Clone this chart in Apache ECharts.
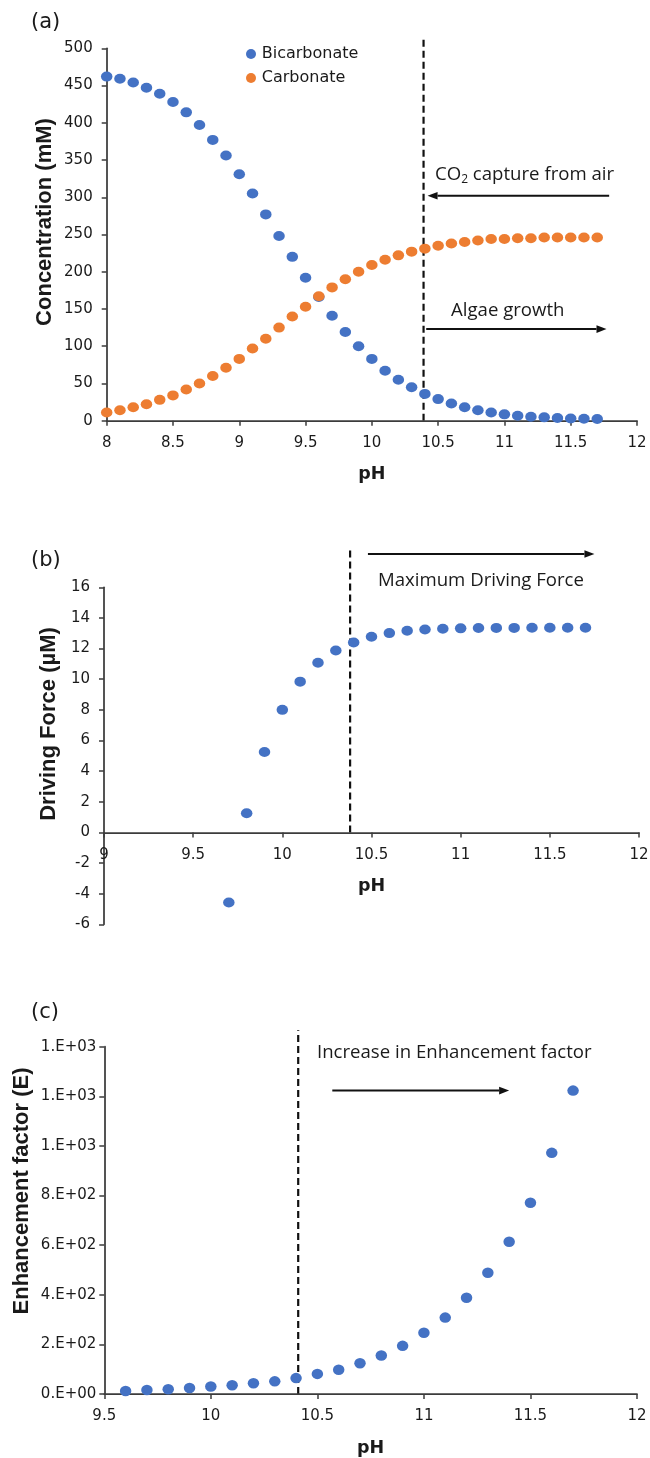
<!DOCTYPE html>
<html>
<head>
<meta charset="utf-8">
<script src="https://cdn.jsdelivr.net/npm/echarts@6/dist/echarts.min.js"></script>
<style>
html, body { margin: 0; padding: 0; background: #fff; }
#chart { width: 650px; height: 1458px; }
</style>
</head>
<body>
<div id="chart"></div>
<script>
// (a) concentration vs pH
const phA = [8.0, 8.1, 8.2, 8.3, 8.4, 8.5, 8.6, 8.7, 8.8, 8.9, 9.0, 9.1, 9.2, 9.3, 9.4, 9.5, 9.6, 9.7, 9.8, 9.9,
  10.0, 10.1, 10.2, 10.3, 10.4, 10.5, 10.6, 10.7, 10.8, 10.9, 11.0, 11.1, 11.2, 11.3, 11.4, 11.5, 11.6, 11.7];
const bicarbonate = [462, 459, 454, 447, 439, 428, 414, 397, 377, 356, 331, 305, 277, 248, 220, 192, 166, 141, 119, 100,
  83, 67, 55, 45, 36, 29, 23, 18, 14, 11, 8.5, 6.7, 5.4, 4.5, 3.6, 3.0, 2.7, 2.2];
const carbonate = [11, 14, 18, 22, 28, 34, 42, 50, 60, 71, 83, 97, 110, 125, 140, 153, 167, 179, 190, 200,
  209, 216, 222, 227, 231, 235, 238, 240, 242, 244, 244, 245, 245, 246, 246, 246, 246, 246];

// (b) driving force vs pH
const phB = [9.7, 9.8, 9.9, 10.0, 10.1, 10.2, 10.3, 10.4, 10.5, 10.6, 10.7, 10.8, 10.9, 11.0, 11.1, 11.2, 11.3, 11.4, 11.5, 11.6, 11.7];
const drivingForce = [-4.58, 1.25, 5.25, 8.0, 9.84, 11.08, 11.88, 12.4, 12.77, 13.01, 13.16, 13.25, 13.29, 13.32, 13.34, 13.35, 13.35, 13.36, 13.36, 13.36, 13.36];

// (c) enhancement factor vs pH
const phC = [9.6, 9.7, 9.8, 9.9, 10.0, 10.1, 10.2, 10.3, 10.4, 10.5, 10.6, 10.7, 10.8, 10.9, 11.0, 11.1, 11.2, 11.3, 11.4, 11.5, 11.6, 11.7];
const enhancement = [12, 16, 19, 24, 30, 35, 43, 51, 64, 81, 98, 124, 155, 194, 247, 308, 388, 489, 614, 771, 972, 1223];
const enhTickLabels = ['0.E+00', '2.E+02', '4.E+02', '6.E+02', '8.E+02', '1.E+03', '1.E+03', '1.E+03'];

// guide lines in data units: [grid, x1, y1, x2, y2]
const dashLines = [[0, 10.39, 0, 10.39, 517], [1, 10.38, 0, 10.38, 18.4], [2, 10.41, 0, 10.41, 1466]];
const arrows = [[0, 11.79, 302, 10.42, 302], [0, 10.41, 123, 11.77, 123], [1, 10.48, 18.17, 11.75, 18.17], [2, 10.57, 1223, 11.40, 1223]];

const pairs = (xs, ys) => xs.map((x, i) => [x, ys[i]]);

const axisColor = '#3c3c3c';
const textColor = '#1a1a1a';
const tickFont = 'DejaVu Sans';
const noteFont = '18.6px "Open Sans"';

// panel b: x axis sits on y = 0, lift it by that share of the grid height
const gridB = { left: 104, top: 587.3, width: 535, height: 337 };
const yMinB = -6, yMaxB = 16;
const zeroLiftB = -gridB.height * (0 - yMinB) / (yMaxB - yMinB);

function xAxisFor(grid, min, offset) {
    return {
        type: 'value', gridIndex: grid, min: min, max: 12, interval: 0.5, offset: offset || 0,
        name: 'pH', nameLocation: 'middle', nameGap: 45,
        nameTextStyle: { fontFamily: 'DejaVu Sans', fontWeight: 'bold', fontSize: 17.5, color: textColor },
        axisLine: { show: true, onZero: false, lineStyle: { color: axisColor, width: 1.75 } },
        axisTick: { show: true, length: 5, lineStyle: { color: axisColor, width: 1.5 } },
        axisLabel: { fontFamily: tickFont, fontSize: 15, color: textColor, margin: 15, showMinLabel: true, showMaxLabel: true },
        splitLine: { show: false }
    }
}

function yAxisFor(grid, min, max, interval, margin, formatter) {
    return {
        type: 'value', gridIndex: grid, min: min, max: max, interval: interval,
        axisLine: { show: true, onZero: false, lineStyle: { color: axisColor, width: 1.75 } },
        axisTick: { show: true, length: 5, lineStyle: { color: axisColor, width: 1.5 } },
        axisLabel: { fontFamily: tickFont, fontSize: 15, color: textColor, margin: margin, formatter: formatter, showMinLabel: true, showMaxLabel: true },
        splitLine: { show: false }
    }
}

const chart = echarts.init(document.getElementById('chart'))

chart.setOption({
    backgroundColor: '#fff',
    animation: false,
    grid: [
        { left: 106.7, top: 48.3, width: 530.3, height: 372.4, outerBoundsMode: 'none' },
        Object.assign({ outerBoundsMode: 'none' }, gridB),
        { left: 104.3, top: 1046.7, width: 532.7, height: 347.3, outerBoundsMode: 'none' }
    ],
    xAxis: [xAxisFor(0, 8), xAxisFor(1, 9, zeroLiftB), xAxisFor(2, 9.5)],
    yAxis: [
        yAxisFor(0, 0, 500, 50, 14),
        yAxisFor(1, yMinB, yMaxB, 2, 14),
        yAxisFor(2, 0, 1400, 200, 8, v => enhTickLabels[Math.round(v / 200)])
    ],
    legend: {
        orient: 'vertical', left: 241, top: 41,
        itemWidth: 11.5, itemHeight: 10, itemGap: 8, icon: 'circle',
        textStyle: { fontFamily: tickFont, fontSize: 16, color: textColor },
        data: ['Bicarbonate', 'Carbonate']
    },
    series: [
        {
            name: 'Bicarbonate', type: 'scatter', xAxisIndex: 0, yAxisIndex: 0,
            data: pairs(phA, bicarbonate), symbolSize: [11.5, 10],
            itemStyle: { color: '#4472c4', opacity: 1 }
        },
        {
            name: 'Carbonate', type: 'scatter', xAxisIndex: 0, yAxisIndex: 0,
            data: pairs(phA, carbonate), symbolSize: [11.5, 10],
            itemStyle: { color: '#ed7d31', opacity: 1 }
        },
        {
            name: 'Driving Force', type: 'scatter', xAxisIndex: 1, yAxisIndex: 1,
            data: pairs(phB, drivingForce), symbolSize: [11.5, 10],
            itemStyle: { color: '#4472c4', opacity: 1 }
        },
        {
            name: 'Enhancement factor', type: 'scatter', xAxisIndex: 2, yAxisIndex: 2,
            data: pairs(phC, enhancement), symbolSize: [11.5, 10.5],
            itemStyle: { color: '#4472c4', opacity: 1 }
        }
    ]
})

// annotations: guide lines go through the axes' own scales
const toPx = (g, x, y) => chart.convertToPixel({ gridIndex: g }, [x, y])
const elements = []

dashLines.forEach(([g, x1, y1, x2, y2]) => {
    const a = toPx(g, x1, y1), b = toPx(g, x2, y2)
    elements.push({
        type: 'line', silent: true,
        shape: { x1: a[0], y1: a[1], x2: b[0], y2: b[1] },
        style: { stroke: '#111', lineWidth: 2.2, lineDash: [7, 4] }
    })
})

arrows.forEach(([g, x1, y1, x2, y2]) => {
    const a = toPx(g, x1, y1), b = toPx(g, x2, y2)
    const dx = b[0] - a[0], dy = b[1] - a[1], len = Math.hypot(dx, dy)
    const ux = dx / len, uy = dy / len
    const bx = b[0] - ux * 10, by = b[1] - uy * 10
    elements.push({
        type: 'line', silent: true,
        shape: { x1: a[0], y1: a[1], x2: bx, y2: by },
        style: { stroke: '#111', lineWidth: 2 }
    })
    elements.push({
        type: 'polygon', silent: true,
        shape: { points: [b, [bx - uy * 3.8, by + ux * 3.8], [bx + uy * 3.8, by - ux * 3.8]] },
        style: { fill: '#111' }
    })
})

const plainText = (text, x, y, font, align) => ({
    type: 'text', silent: true, x: x, y: y,
    style: { text: text, font: font, fill: textColor, align: align || 'left', verticalAlign: 'middle' }
})

// panel tags
elements.push(plainText('(a)', 31, 23, '21px "DejaVu Sans"'))
elements.push(plainText('(b)', 31, 561, '21px "DejaVu Sans"'))
elements.push(plainText('(c)', 31, 1013, '21px "DejaVu Sans"'))

// y axis titles
const yTitle = (text, x, y) => ({
    type: 'text', silent: true, x: x, y: y, rotation: Math.PI / 2,
    style: { text: text, font: 'bold 22px "Liberation Sans"', fill: textColor, align: 'center', verticalAlign: 'middle' }
})
elements.push(yTitle('Concentration (mM)', 45, 222))
elements.push(yTitle('Driving Force (µM)', 48.5, 724))
elements.push(yTitle('Enhancement factor (E)', 22, 1191))

// notes
elements.push({
    type: 'text', silent: true, x: 435, y: 175,
    style: {
        text: '{n|CO}{s|2}{n| capture from air}',
        fill: textColor, align: 'left', verticalAlign: 'middle',
        rich: {
            n: { font: noteFont, fill: textColor },
            s: { font: '12px "Open Sans"', fill: textColor, padding: [9, 0, 0, 0] }
        }
    }
})
elements.push(plainText('Algae growth', 451, 311, noteFont))
elements.push(plainText('Maximum Driving Force', 378, 581, noteFont))
elements.push(plainText('Increase in Enhancement factor', 317, 1053, noteFont))

chart.setOption({ graphic: { elements: elements } })
</script>
</body>
</html>
